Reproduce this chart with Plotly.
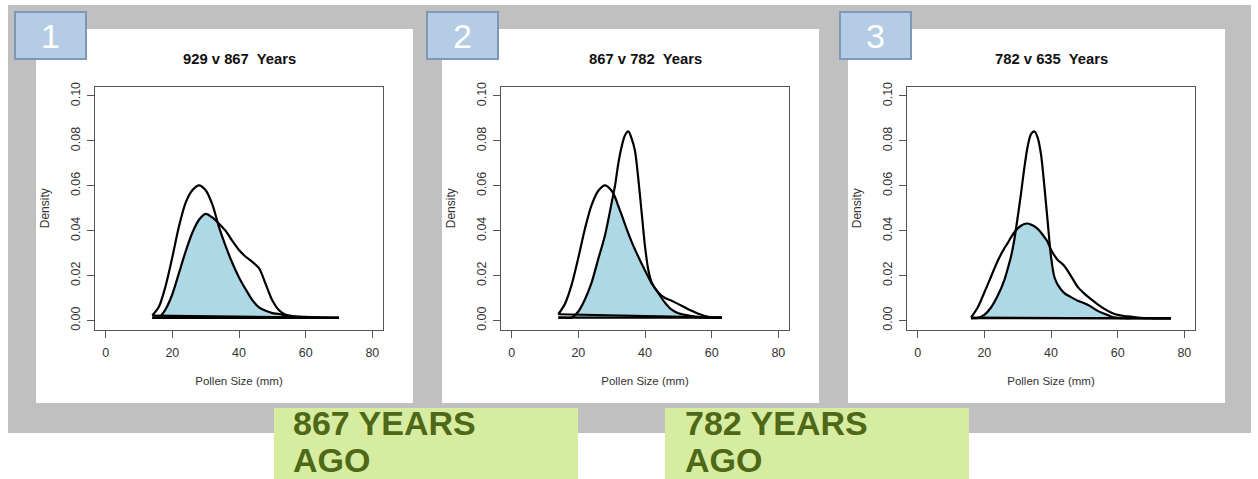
import plotly.graph_objects as go

W, H = 1258, 479

# ---------------- data ----------------
titles = ["929 v 867  Years", "867 v 782  Years", "782 v 635  Years"]
panel_numbers = ["1", "2", "3"]
x_ticks = [0, 20, 40, 60, 80]
y_ticks = [0.00, 0.02, 0.04, 0.06, 0.08, 0.10]
y_tick_labels = ["0.00", "0.02", "0.04", "0.06", "0.08", "0.10"]
x_label = "Pollen Size (mm)"
y_label = "Density"
green_labels = [["867 YEARS", "AGO"], ["782 YEARS", "AGO"]]

# panel 1: 929 vs 867 years
p1_x = [14, 16, 18, 20, 22, 24, 26, 28, 30, 32, 34, 36, 38, 40, 42, 44, 46, 48, 50,
        52, 54, 56, 58, 60, 62, 64, 66, 68, 70]
p1_a = [0.0022, 0.0062, 0.0155, 0.0282, 0.0420, 0.0525, 0.0580, 0.0602, 0.0580, 0.0517,
        0.0416, 0.0331, 0.0256, 0.0192, 0.0139, 0.0091, 0.0059, 0.0043, 0.0033, 0.0029,
        0.0022, 0.0016, 0.0013, 0.0012, 0.0012, 0.0012, 0.0012, 0.0012, 0.0012]
p1_b = [0.0012, 0.0014, 0.0051, 0.0117, 0.0212, 0.0308, 0.0391, 0.0449, 0.0475, 0.0459,
        0.0431, 0.0399, 0.0355, 0.0314, 0.0284, 0.0261, 0.0233, 0.0162, 0.0089, 0.0046,
        0.0026, 0.0020, 0.0017, 0.0016, 0.0015, 0.0014, 0.0013, 0.0012, 0.0012]

# panel 2: 867 vs 782 years
p2_x = [14, 16, 18, 20, 22, 24, 26, 28, 30, 31, 32, 33, 34, 35, 36, 37, 38, 39, 40, 41,
        42, 44, 46, 48, 50, 52, 54, 56, 58, 60, 62, 63]
p2_a = [0.0028, 0.0075, 0.0160, 0.0280, 0.0410, 0.0515, 0.0578, 0.0602, 0.0578, 0.0550,
        0.0510, 0.0470, 0.0428, 0.0388, 0.0350, 0.0316, 0.0284, 0.0253, 0.0223, 0.0194,
        0.0165, 0.0122, 0.0079, 0.0048, 0.0032, 0.0025, 0.0020, 0.0016, 0.0014, 0.0013,
        0.0013, 0.0013]
p2_b = [0.0013, 0.0013, 0.0013, 0.0040, 0.0095, 0.0170, 0.0275, 0.0380, 0.0525, 0.0600,
        0.0700, 0.0775, 0.0825, 0.0842, 0.0810, 0.0755, 0.0630, 0.0480, 0.0330, 0.0225,
        0.0170, 0.0125, 0.0100, 0.0088, 0.0073, 0.0058, 0.0043, 0.0030, 0.0020, 0.0014,
        0.0013, 0.0013]

# panel 3: 782 vs 635 years
p3_x = [16, 18, 20, 22, 24, 26, 27, 28, 29, 30, 31, 32, 33, 34, 35, 36, 37, 38, 39, 40,
        41, 42, 44, 46, 48, 50, 52, 54, 56, 58, 60, 62, 64, 66, 68, 70, 72, 74, 76]
p3_a = [0.0011, 0.0011, 0.0025, 0.0058, 0.0110, 0.0180, 0.0230, 0.0285, 0.0360, 0.0460,
        0.0565, 0.0680, 0.0775, 0.0830, 0.0842, 0.0815, 0.0740, 0.0600, 0.0440, 0.0285,
        0.0195, 0.0160, 0.0122, 0.0104, 0.0088, 0.0077, 0.0062, 0.0043, 0.0030, 0.0018,
        0.0012, 0.0010, 0.0010, 0.0010, 0.0010, 0.0010, 0.0010, 0.0010, 0.0010]
p3_b = [0.0013, 0.0058, 0.0125, 0.0195, 0.0265, 0.0322, 0.0345, 0.0370, 0.0393, 0.0410,
        0.0422, 0.0430, 0.0432, 0.0427, 0.0420, 0.0408, 0.0392, 0.0372, 0.0350, 0.0315,
        0.0290, 0.0270, 0.0243, 0.0198, 0.0150, 0.0120, 0.0095, 0.0072, 0.0052, 0.0036,
        0.0025, 0.0020, 0.0017, 0.0013, 0.0011, 0.0010, 0.0009, 0.0009, 0.0009]

panels = [(p1_x, p1_a, p1_b), (p2_x, p2_a, p2_b), (p3_x, p3_a, p3_b)]

# ---------------- styling / layout ----------------
FONT = "Liberation Sans, Arial, sans-serif"
GRAY = "#C0C0C0"
AXC = "#555555"
TXT = "#333333"
FILL = "#ADD8E6"


def fx(p):
    return p / W


def fy(p):
    return 1 - p / H


fig = go.Figure()
shapes = []
annotations = []

# grey backdrop
shapes.append(dict(type="rect", xref="paper", yref="paper", x0=fx(8), x1=fx(1251),
                   y0=fy(433), y1=fy(5), fillcolor=GRAY, line=dict(width=0), layer="below"))

for i, (xs, ya, yb) in enumerate(panels):
    off = 406 * i
    L, R = 95 + off, 383 + off
    T, B = 87, 329.5
    # white panel
    shapes.append(dict(type="rect", xref="paper", yref="paper", x0=fx(36 + off), x1=fx(413 + off),
                       y0=fy(403), y1=fy(29), fillcolor="white", line=dict(width=0), layer="below"))
    # number box
    bx = [15, 427, 840][i]
    shapes.append(dict(type="rect", xref="paper", yref="paper", x0=fx(bx), x1=fx(bx + 71),
                       y0=fy(59), y1=fy(12), fillcolor="#B4CDE4",
                       line=dict(color="#7D99B6", width=2), layer="below"))
    annotations.append(dict(x=fx(bx + 35.5), y=fy(36), xref="paper", yref="paper",
                            text=panel_numbers[i], showarrow=False, xanchor="center",
                            yanchor="middle", font=dict(family=FONT, size=34, color="white")))
    # title
    annotations.append(dict(x=fx((L + R) / 2), y=fy(59), xref="paper", yref="paper",
                            text="<b>" + titles[i].replace("  ", "\u00a0 ") + "</b>",
                            showarrow=False, xanchor="center", yanchor="middle",
                            font=dict(family=FONT, size=14.8, color="#111111")))

    sfx = "" if i == 0 else str(i + 1)
    xname, yname = "x" + sfx, "y" + sfx
    lo = [min(a, b) for a, b in zip(ya, yb)]
    # overlap area (lightblue)
    fig.add_trace(go.Scatter(x=xs, y=lo, xaxis=xname, yaxis=yname, mode="lines",
                             line=dict(width=0, shape="spline", smoothing=0.8),
                             fill="toself", fillcolor=FILL, hoverinfo="skip", showlegend=False))
    # curves and their closing baselines
    for ys in (ya, yb):
        fig.add_trace(go.Scatter(x=xs, y=ys, xaxis=xname, yaxis=yname, mode="lines",
                                 line=dict(color="black", width=2.2, shape="spline", smoothing=0.8),
                                 showlegend=False))
        fig.add_trace(go.Scatter(x=[xs[-1], xs[0]], y=[ys[-1], ys[0]], xaxis=xname, yaxis=yname,
                                 mode="lines", line=dict(color="black", width=2.2),
                                 showlegend=False))

    axis_common = dict(showline=True, linecolor=AXC, linewidth=1.2, mirror=True,
                       showgrid=False, zeroline=False, ticks="outside", ticklen=7,
                       tickcolor=AXC, tickwidth=1.2, automargin=False,
                       tickfont=dict(family=FONT, size=12.5, color=TXT))
    fig.update_layout(**{
        ("xaxis" + sfx): dict(axis_common, domain=[fx(L), fx(R)], range=[-3.2, 83.2],
                              tickvals=x_ticks, anchor=yname, ticklabelstandoff=4,
                              title=dict(text=x_label, standoff=18,
                                         font=dict(family=FONT, size=11.5, color=TXT))),
        ("yaxis" + sfx): dict(axis_common, domain=[fy(B), fy(T)], range=[-0.004, 0.104],
                              tickvals=y_ticks, ticktext=y_tick_labels, tickangle=-90,
                              anchor=xname, ticklabelstandoff=2,
                              title=dict(text=y_label, standoff=16,
                                         font=dict(family=FONT, size=12, color=TXT))),
    })

# green "years ago" boxes
for j, (gx, tx) in enumerate([(274, 291), (665, 683)]):
    shapes.append(dict(type="rect", xref="paper", yref="paper", x0=fx(gx), x1=fx(gx + 304),
                       y0=0, y1=fy(408), fillcolor="#D6EDA1", line=dict(width=0), layer="above"))
    for k, cy in enumerate([423, 460]):
        annotations.append(dict(x=fx(tx), y=fy(cy), xref="paper", yref="paper",
                                text="<b>" + green_labels[j][k] + "</b>", showarrow=False,
                                xanchor="left", yanchor="middle", height=36, valign="middle",
                                font=dict(family=FONT, size=34, color="#4E6817")))

fig.update_layout(width=W, height=H, margin=dict(l=0, r=0, t=0, b=0, autoexpand=False),
                  paper_bgcolor="white", plot_bgcolor="rgba(0,0,0,0)",
                  shapes=shapes, annotations=annotations, showlegend=False)

fig.write_html("out.html")
